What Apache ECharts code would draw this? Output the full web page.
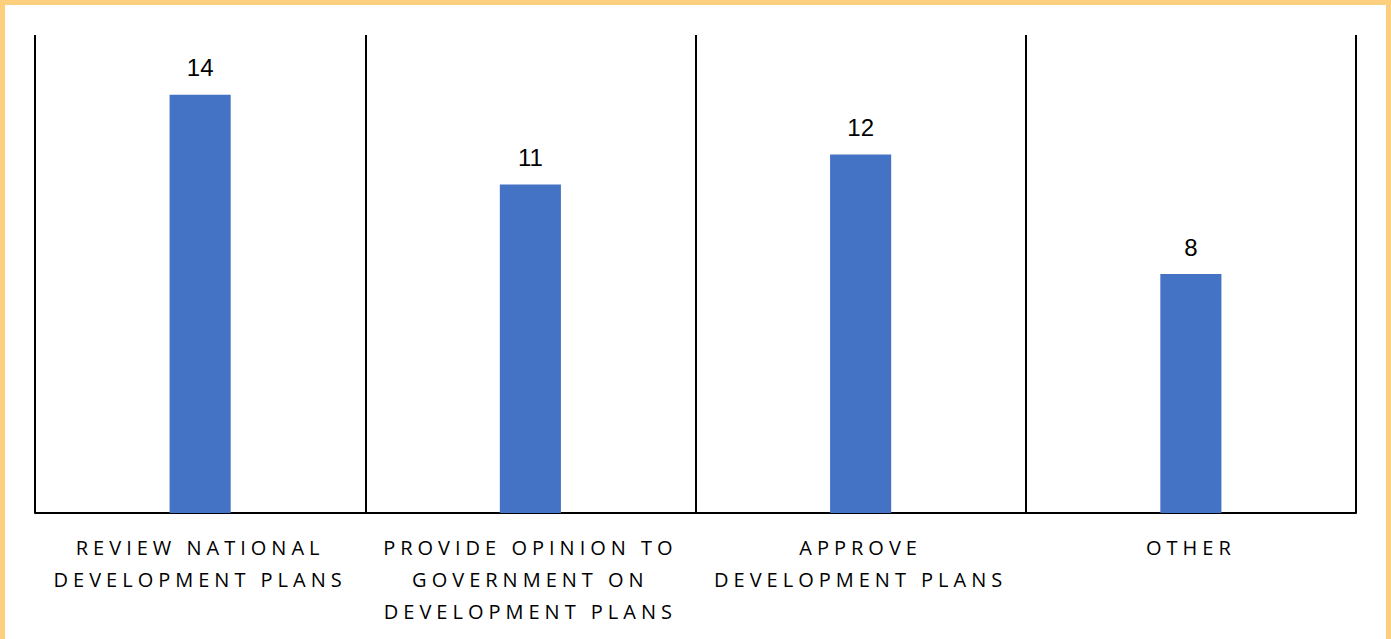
<!DOCTYPE html>
<html>
<head>
<meta charset="utf-8">
<script src="https://cdn.jsdelivr.net/npm/echarts@6/dist/echarts.min.js"></script>
<style>
  html, body { margin: 0; padding: 0; width: 1391px; height: 639px; background: #FBCF7D; overflow: hidden; }
  #chart { position: absolute; left: 5px; top: 5px; width: 1381px; height: 634px; background: #ffffff; }
  /* spaced-out capitals for the category names */
  #chart svg text[style*="Open Sans"] { letter-spacing: 5px; }
</style>
</head>
<body>
<div id="chart"></div>
<script>
// Functions of the body, and how many respondents named each
const categories = [
  'REVIEW NATIONAL\nDEVELOPMENT PLANS',
  'PROVIDE OPINION TO\nGOVERNMENT ON\nDEVELOPMENT PLANS',
  'APPROVE\nDEVELOPMENT PLANS',
  'OTHER'
];
const counts = [14, 11, 12, 8];

const chart = echarts.init(document.getElementById('chart'), null, { renderer: 'svg' });

chart.setOption({
  animation: false,
  backgroundColor: '#ffffff',
  grid: { left: 30, right: 30, top: 30, bottom: 126, containLabel: false },
  xAxis: {
    type: 'category',
    data: categories,
    boundaryGap: true,
    axisLine: { show: true, lineStyle: { color: '#000000', width: 2 } },
    axisTick: { show: false },
    splitLine: { show: true, lineStyle: { color: '#000000', width: 2 } },
    axisLabel: {
      interval: 0,
      margin: 18,
      color: '#000000',
      fontFamily: 'Open Sans',
      fontSize: 20,
      lineHeight: 32
    }
  },
  yAxis: {
    type: 'value',
    min: 0,
    max: 16,
    show: false,
    splitLine: { show: false }
  },
  series: [{
    type: 'bar',
    data: counts,
    barWidth: '18.5%',
    itemStyle: { color: '#4472C4' },
    label: {
      show: true,
      position: 'top',
      distance: 15,
      color: '#000000',
      fontFamily: 'Liberation Sans',
      fontSize: 24
    }
  }]
});
</script>
</body>
</html>
